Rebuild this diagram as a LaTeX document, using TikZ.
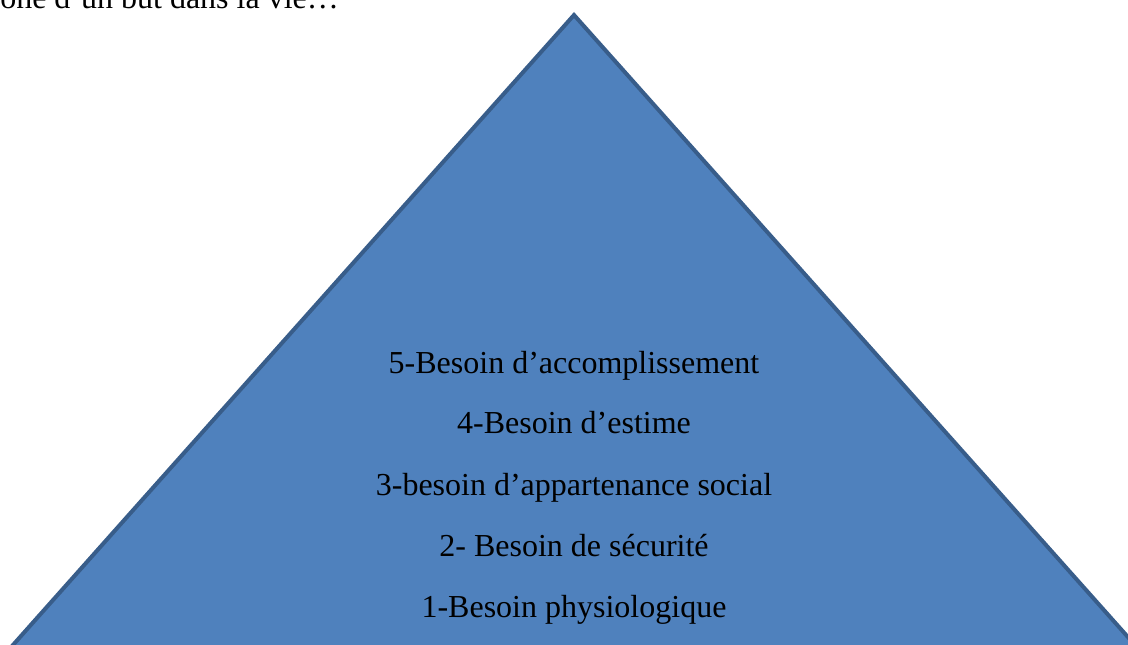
\documentclass[tikz,border=0pt]{standalone}
\usepackage{fontspec}
\setmainfont{Liberation Serif}
\definecolor{pyrfill}{HTML}{4F81BD}
\definecolor{pyrline}{HTML}{385D8A}
\begin{document}
\begin{tikzpicture}[x=0.75pt,y=-0.75pt,
  besoin/.style={anchor=base,font=\fontsize{24}{29}\selectfont}]
\useasboundingbox (0,0) rectangle (1128,644);
\clip (0,0) rectangle (1128,644);
% pyramide
\draw [pyrline,fill=pyrfill,line width=3pt] (574,15) -- (1184,700) -- (-36,700) -- cycle;
% niveaux
\node[besoin] (accomp) at (574,373) {5-Besoin d’accomplissement};
\node[besoin] (estime) at (574,433) {4-Besoin d’estime};
\node[besoin] (social) at (574,495) {3-besoin d’appartenance social};
\node[besoin] (secu) at (574,556) {2- Besoin de sécurité};
\node[besoin] (physio) at (574,617) {1-Besoin physiologique};
% texte coupe en haut
\node[besoin,anchor=base west,inner xsep=0pt] (haut) at (0,8) {one d’un but dans la vie…};
\end{tikzpicture}
\end{document}
